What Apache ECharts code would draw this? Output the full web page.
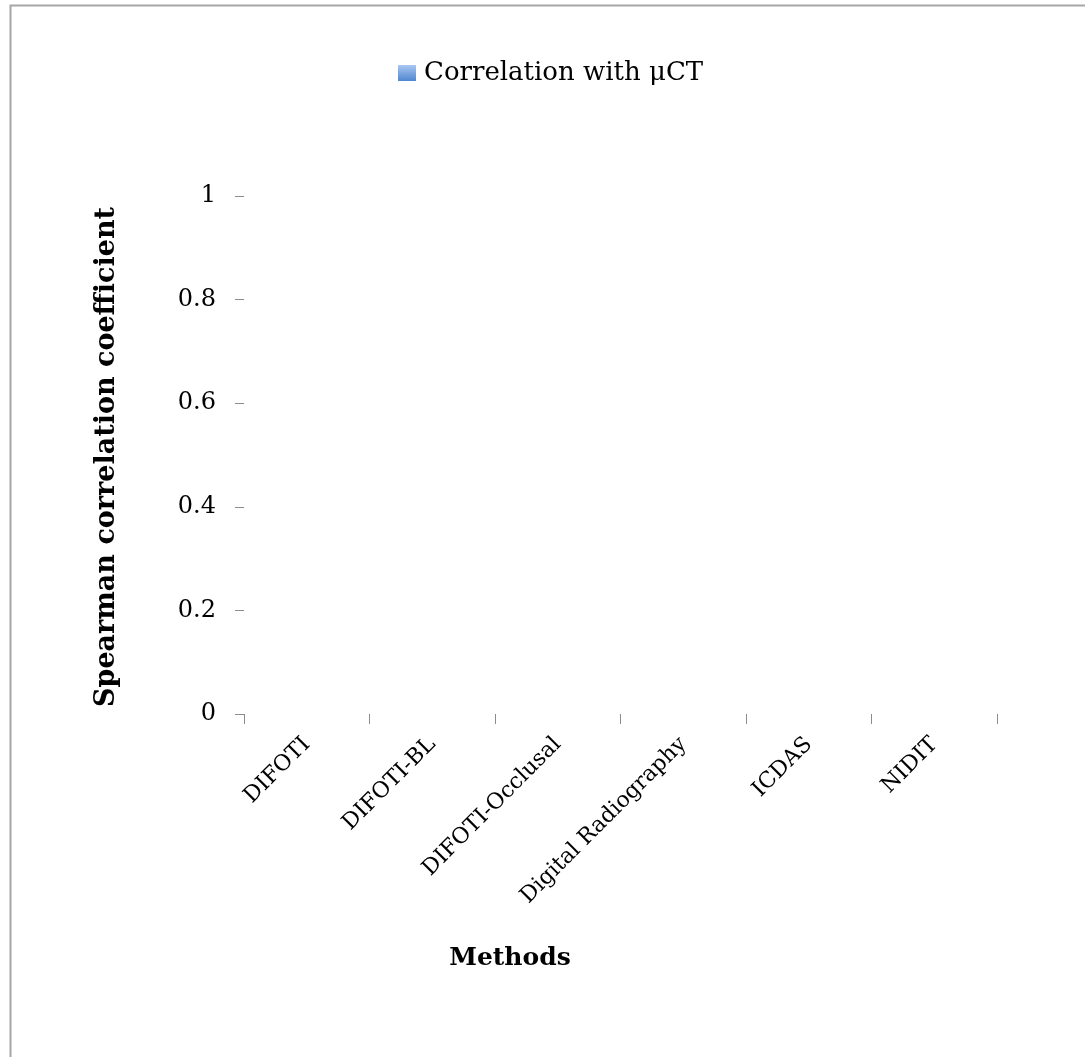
<!DOCTYPE html>
<html>
<head>
<meta charset="utf-8">
<script src="https://cdn.jsdelivr.net/npm/echarts@6/dist/echarts.min.js"></script>
<style>
html,body{margin:0;padding:0;background:#fff;}
#chart{width:1085px;height:1057px;}
</style>
</head>
<body>
<div id="chart"></div>
<script>
const categories = ["DIFOTI", "DIFOTI-BL", "DIFOTI-Occlusal", "Digital Radiography", "ICDAS", "NIDIT"];
const seriesName = "Correlation with \u03bcCT";
const correlationValues = [0, 0, 0, 0, 0, 0];
const yTicks = [0, 0.2, 0.4, 0.6, 0.8, 1];
const yTitle = "Spearman correlation coefficient";
const xTitle = "Methods";

const FONT = "DejaVu Serif";
const chart = echarts.init(document.getElementById('chart'));
chart.setOption({
  animation: false,
  backgroundColor: '#fff',
  graphic: [
    { type: 'rect', shape: { x: 10.5, y: 5.5, width: 1200, height: 1200 },
      style: { fill: 'none', stroke: '#a6a6a6', lineWidth: 2 } },
    { type: 'text', x: 107, y: 457, rotation: Math.PI / 2, z: 10,
      style: { text: yTitle, font: 'bold 27px "' + FONT + '"', fill: '#000',
               textAlign: 'center', textVerticalAlign: 'middle', align: 'center', verticalAlign: 'middle' } }
  ],
  title: [
    { text: xTitle, left: 505, top: 941, textAlign: 'center',
      textStyle: { fontFamily: FONT, fontWeight: 'bold', fontSize: 25, color: '#000' } }
  ],
  legend: {
    left: 393, top: 55, icon: 'rect', itemWidth: 18, itemHeight: 16, itemGap: 5,
    textStyle: { fontFamily: FONT, fontSize: 26, color: '#000', padding: [0,0,0,3] },
    data: [seriesName]
  },
  grid: { left: 244, right: 88, top: 196, bottom: 343, containLabel: false },
  xAxis: {
    type: 'category', data: categories,
    axisLine: { show: false },
    axisTick: { show: true, length: 10, lineStyle: { color: '#8c8c8c', width: 1 } },
    axisLabel: { interval: 0, rotate: 45, margin: 27, fontFamily: FONT, fontSize: 22, color: '#000' }
  },
  yAxis: {
    type: 'value', min: 0, max: 1, interval: 0.2,
    axisLine: { show: false },
    splitLine: { show: false },
    axisTick: { show: true, length: 9, lineStyle: { color: '#8c8c8c', width: 1 } },
    axisLabel: { margin: 28, fontFamily: FONT, fontSize: 24, color: '#000' }
  },
  series: [{
    name: seriesName, type: 'bar', data: correlationValues, barWidth: '50%',
    itemStyle: { color: new echarts.graphic.LinearGradient(0,0,0,1,[
      { offset: 0, color: '#a9c7f2' }, { offset: 1, color: '#4f86d0' }]) }
  }]
});
</script>
</body>
</html>
